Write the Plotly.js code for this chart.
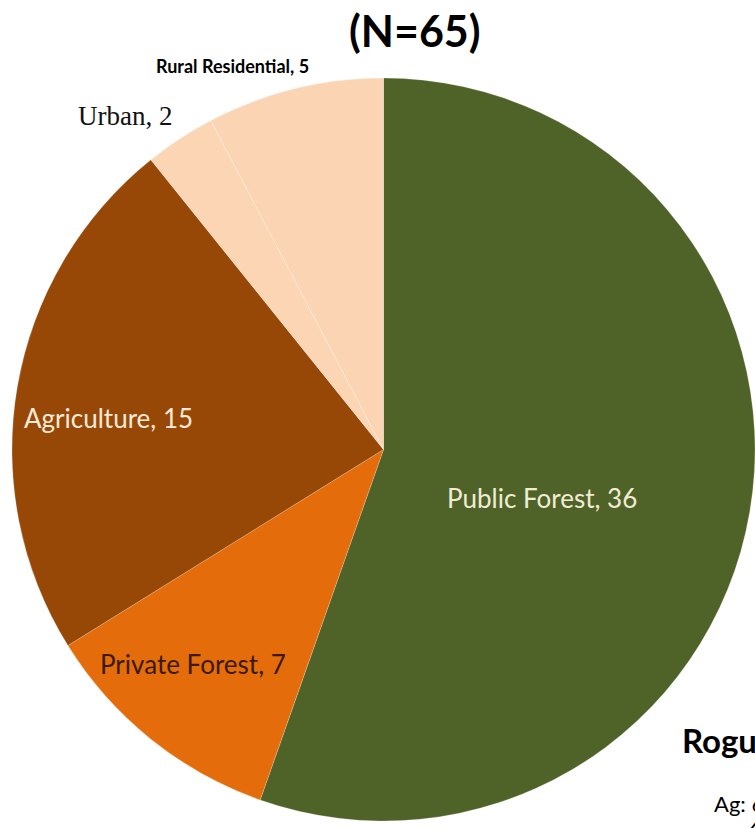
<!DOCTYPE html>
<html>
<head>
<meta charset="utf-8">
<script src="https://cdn.plot.ly/plotly-3.0.1.min.js"></script>
<style>html,body{margin:0;padding:0;background:#fff;}#chart{width:755px;height:828px;}</style>
</head>
<body>
<div id="chart"></div>
<script>
var categories = ["Public Forest", "Private Forest", "Agriculture", "Urban", "Rural Residential"];
var counts = [36, 7, 15, 2, 5];
var sliceColors = ["#4f6228", "#e46c0a", "#974806", "#fcd5b5", "#fbd4b4"];
var totalLabel = "(N=65)";
var sideTitle = "Rogue";
var sideNote = ["Ag: 6", "6"];

var W = 755, H = 828;
function px(x){ return x / W; }
function py(y){ return 1 - y / H; }

var trace = {
  type: "pie",
  values: counts,
  labels: categories,
  sort: false,
  direction: "clockwise",
  rotation: 0,
  textinfo: "none",
  hoverinfo: "label+value",
  marker: { colors: sliceColors, line: { color: "rgba(255,255,255,0.35)", width: 0.6 } },
  domain: { x: [px(12), 1], y: [py(822), py(77)] },
  showlegend: false
};

function lbl(i){ return categories[i] + ", " + counts[i]; }
var calibri = "Lato, 'Open Sans', sans-serif";
var annotations = [
  { text: "<b>" + totalLabel + "</b>", x: px(415), y: py(31), font: { family: calibri, size: 43, color: "#000" } },
  { text: "<b>" + lbl(4) + "</b>", x: px(232), y: py(66), font: { family: calibri, size: 18, color: "#000" } },
  { text: lbl(3), x: px(125), y: py(116), font: { family: "'Liberation Serif', serif", size: 27, color: "#111" } },
  { text: lbl(2), x: px(22), y: py(418), xanchor: "left", font: { family: calibri, size: 26, color: "#f7ead8" } },
  { text: lbl(1), x: px(98), y: py(664), xanchor: "left", font: { family: calibri, size: 26, color: "#3b1a05" } },
  { text: lbl(0), x: px(445), y: py(498), xanchor: "left", font: { family: calibri, size: 26, color: "#f1ecd6" } },
  { text: "<b>" + sideTitle + "</b>", x: px(680), y: py(740), xanchor: "left", font: { family: calibri, size: 33, color: "#000" } },
  { text: sideNote[0], x: px(712), y: py(803), xanchor: "left", font: { family: calibri, size: 22, color: "#000" } },
  { text: sideNote[1], x: px(746), y: py(828), xanchor: "left", font: { family: calibri, size: 22, color: "#000" } }
];
annotations.forEach(function(a){
  a.xref = "paper"; a.yref = "paper"; a.showarrow = false;
  if (!a.xanchor) a.xanchor = "center";
  a.yanchor = "middle";
});

var layout = {
  width: W, height: H,
  margin: { l: 0, r: 0, t: 0, b: 0 },
  paper_bgcolor: "#fff",
  plot_bgcolor: "#fff",
  annotations: annotations,
  showlegend: false
};

Plotly.newPlot("chart", [trace], layout, { displayModeBar: false, staticPlot: true });
</script>
</body>
</html>
